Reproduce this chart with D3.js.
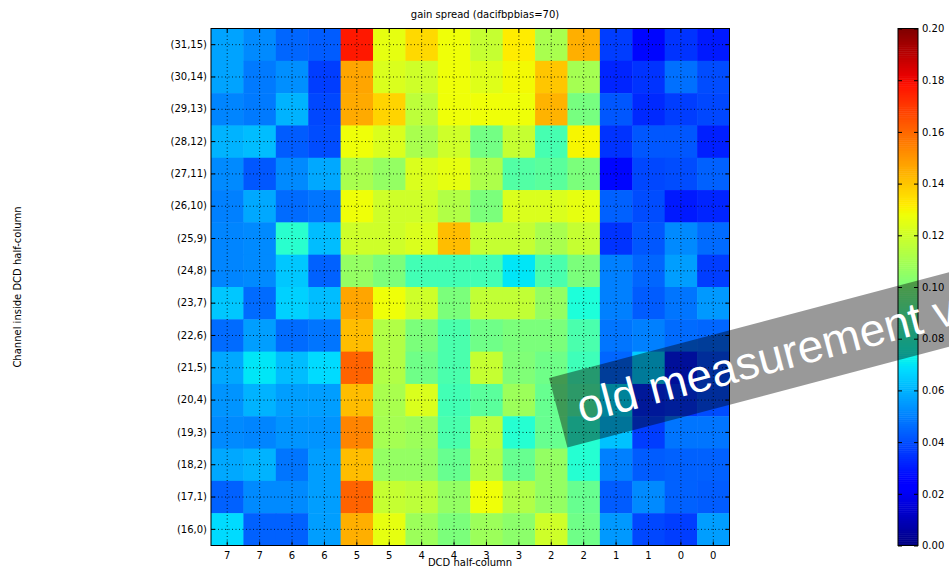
<!DOCTYPE html>
<html>
<head>
<meta charset="utf-8">
<script src="https://cdn.jsdelivr.net/npm/d3@7"></script>
<style>
  body { margin: 0; background: #fff; }
  text { font-family: "DejaVu Sans", sans-serif; }
  text.watermark { font-family: "Liberation Sans", Arial, sans-serif; }
</style>
</head>
<body>
<svg id="mychart" width="949" height="567"></svg>
<script>
// column labels (DCD half-column), left to right
const colLabels = ["7", "7", "6", "6", "5", "5", "4", "4", "3", "3", "2", "2", "1", "1", "0", "0"];
// row labels (channel inside DCD half-column), top to bottom
const rowLabels = ["(31,15)", "(30,14)", "(29,13)", "(28,12)", "(27,11)", "(26,10)", "(25,9)", "(24,8)",
  "(23,7)", "(22,6)", "(21,5)", "(20,4)", "(19,3)", "(18,2)", "(17,1)", "(16,0)"];
// gain spread values, one row per channel (top to bottom)
const gainSpread = [
  [0.057, 0.052, 0.045, 0.043, 0.177, 0.126, 0.136, 0.128, 0.118, 0.132, 0.111, 0.145, 0.037, 0.026, 0.035, 0.030],
  [0.057, 0.049, 0.053, 0.037, 0.147, 0.123, 0.120, 0.128, 0.124, 0.129, 0.140, 0.110, 0.032, 0.035, 0.047, 0.040],
  [0.051, 0.049, 0.060, 0.039, 0.146, 0.137, 0.116, 0.128, 0.128, 0.128, 0.144, 0.099, 0.042, 0.033, 0.037, 0.039],
  [0.060, 0.062, 0.043, 0.040, 0.128, 0.123, 0.111, 0.120, 0.098, 0.118, 0.087, 0.130, 0.035, 0.042, 0.042, 0.031],
  [0.052, 0.042, 0.052, 0.058, 0.111, 0.106, 0.123, 0.126, 0.112, 0.090, 0.092, 0.100, 0.026, 0.039, 0.040, 0.044],
  [0.050, 0.058, 0.046, 0.048, 0.128, 0.120, 0.120, 0.113, 0.100, 0.123, 0.123, 0.126, 0.044, 0.040, 0.030, 0.032],
  [0.051, 0.052, 0.080, 0.062, 0.120, 0.120, 0.123, 0.142, 0.118, 0.118, 0.111, 0.118, 0.035, 0.042, 0.052, 0.046],
  [0.051, 0.052, 0.064, 0.044, 0.106, 0.100, 0.086, 0.086, 0.086, 0.070, 0.088, 0.100, 0.050, 0.045, 0.056, 0.037],
  [0.064, 0.046, 0.066, 0.062, 0.147, 0.128, 0.120, 0.100, 0.117, 0.117, 0.106, 0.077, 0.050, 0.043, 0.048, 0.055],
  [0.046, 0.056, 0.046, 0.048, 0.142, 0.113, 0.100, 0.088, 0.097, 0.100, 0.100, 0.088, 0.048, 0.050, 0.046, 0.045],
  [0.058, 0.070, 0.062, 0.068, 0.161, 0.113, 0.097, 0.088, 0.118, 0.101, 0.097, 0.085, 0.045, 0.065, 0.030, 0.040],
  [0.054, 0.060, 0.056, 0.056, 0.142, 0.111, 0.123, 0.086, 0.092, 0.108, 0.095, 0.088, 0.068, 0.033, 0.035, 0.040],
  [0.052, 0.051, 0.054, 0.054, 0.154, 0.110, 0.108, 0.088, 0.116, 0.079, 0.095, 0.079, 0.063, 0.037, 0.048, 0.048],
  [0.058, 0.060, 0.048, 0.056, 0.142, 0.106, 0.106, 0.095, 0.113, 0.095, 0.106, 0.079, 0.050, 0.043, 0.044, 0.044],
  [0.044, 0.052, 0.052, 0.056, 0.161, 0.118, 0.116, 0.106, 0.128, 0.113, 0.106, 0.095, 0.043, 0.052, 0.044, 0.043],
  [0.068, 0.044, 0.044, 0.056, 0.145, 0.126, 0.108, 0.100, 0.108, 0.104, 0.120, 0.097, 0.055, 0.039, 0.037, 0.056]
];
// colorbar ticks
const cbarTicks = [0.00, 0.02, 0.04, 0.06, 0.08, 0.10, 0.12, 0.14, 0.16, 0.18, 0.20];

const svg = d3.select("#mychart");

// plot area
const plotLeft = 211, plotTop = 28.5, plotRight = 729.5, plotBottom = 545.5;

const x_Scale = d3.scaleBand().domain(d3.range(colLabels.length)).range([plotLeft, plotRight]);
const y_Scale = d3.scaleBand().domain(d3.range(rowLabels.length)).range([plotTop, plotBottom]);

// matplotlib "jet" colormap, value range 0..0.2
const tScale = d3.scaleLinear().domain([0, 0.2]).range([0, 1]).clamp(true);
const jetR = d3.scaleLinear().domain([0, 0.35, 0.66, 0.89, 1]).range([0, 0, 1, 1, 0.5]);
const jetG = d3.scaleLinear().domain([0, 0.125, 0.375, 0.64, 0.91, 1]).range([0, 0, 1, 1, 0, 0]);
const jetB = d3.scaleLinear().domain([0, 0.11, 0.34, 0.65, 1]).range([0.5, 1, 1, 0, 0]);
const jet = (v) => {
  const t = tScale(v);
  return d3.rgb(jetR(t) * 255, jetG(t) * 255, jetB(t) * 255).toString();
};

// cells
const cells = [];
gainSpread.forEach((row, r) => row.forEach((v, c) => cells.push({ r, c, v })));
svg.append("g")
  .selectAll("rect")
  .data(cells)
  .join("rect")
  .attr("x", (d) => x_Scale(d.c))
  .attr("y", (d) => y_Scale(d.r))
  .attr("width", x_Scale.bandwidth() + 0.5)
  .attr("height", y_Scale.bandwidth() + 0.5)
  .attr("fill", (d) => jet(d.v));

// dotted grid at tick positions
const grid = svg.append("g")
  .attr("stroke", "#000")
  .attr("stroke-width", 0.8)
  .attr("stroke-dasharray", "1,2.5");
grid.selectAll(".vgrid")
  .data(x_Scale.domain())
  .join("line")
  .attr("x1", (d) => x_Scale(d) + x_Scale.bandwidth() / 2)
  .attr("x2", (d) => x_Scale(d) + x_Scale.bandwidth() / 2)
  .attr("y1", plotTop)
  .attr("y2", plotBottom);
grid.selectAll(".hgrid")
  .data(y_Scale.domain())
  .join("line")
  .attr("y1", (d) => y_Scale(d) + y_Scale.bandwidth() / 2)
  .attr("y2", (d) => y_Scale(d) + y_Scale.bandwidth() / 2)
  .attr("x1", plotLeft)
  .attr("x2", plotRight);

// axes, ticks pointing inward
svg.append("g")
  .attr("transform", `translate(0,${plotBottom})`)
  .call(d3.axisBottom(x_Scale).tickSize(-4).tickPadding(6).tickFormat((i) => colLabels[i]));
svg.append("g")
  .attr("transform", `translate(0,${plotTop})`)
  .call(d3.axisTop(x_Scale).tickSize(-4).tickFormat(""));
svg.append("g")
  .attr("transform", `translate(${plotLeft},0)`)
  .call(d3.axisLeft(y_Scale).tickSize(-4).tickPadding(4).tickFormat((i) => rowLabels[i]));
svg.append("g")
  .attr("transform", `translate(${plotRight},0)`)
  .call(d3.axisRight(y_Scale).tickSize(-4).tickFormat(""));
svg.selectAll(".domain").remove();
svg.selectAll(".tick text")
  .attr("font-size", "10px")
  .attr("fill", "#000");

// frame
svg.append("rect")
  .attr("x", plotLeft).attr("y", plotTop)
  .attr("width", plotRight - plotLeft).attr("height", plotBottom - plotTop)
  .attr("fill", "none")
  .attr("stroke", "#000")
  .attr("stroke-width", 1);

// title and labels
svg.append("text")
  .attr("x", 485).attr("y", 18)
  .attr("text-anchor", "middle")
  .attr("font-size", "10px")
  .text("gain spread (dacifbpbias=70)");
svg.append("text")
  .attr("x", 470).attr("y", 566)
  .attr("text-anchor", "middle")
  .attr("font-size", "10px")
  .text("DCD half-column");
svg.append("text")
  .attr("transform", `translate(21,${(plotTop + plotBottom) / 2}) rotate(-90)`)
  .attr("text-anchor", "middle")
  .attr("font-size", "10px")
  .text("Channel inside DCD half-column");

// colorbar
const cbLeft = 898, cbWidth = 20;
const cScale = d3.scaleLinear().domain([0, 0.2]).range([plotBottom, plotTop]);
const steps = d3.range(0, 0.2, 0.0008);
svg.append("g")
  .selectAll("rect")
  .data(steps)
  .join("rect")
  .attr("x", cbLeft)
  .attr("y", (d) => cScale(d + 0.0008))
  .attr("width", cbWidth)
  .attr("height", (d) => cScale(d) - cScale(d + 0.0008) + 0.5)
  .attr("fill", (d) => jet(d + 0.0004));
svg.append("rect")
  .attr("x", cbLeft).attr("y", plotTop)
  .attr("width", cbWidth).attr("height", plotBottom - plotTop)
  .attr("fill", "none")
  .attr("stroke", "#000")
  .attr("stroke-width", 1);
svg.append("g")
  .attr("transform", `translate(${cbLeft + cbWidth},0)`)
  .call(d3.axisRight(cScale).tickValues(cbarTicks).tickSize(-4).tickPadding(4).tickFormat(d3.format(".2f")))
  .call((g) => g.select(".domain").remove())
  .call((g) => g.selectAll("text").attr("font-size", "10px").attr("fill", "#000"));
svg.append("g")
  .attr("transform", `translate(${cbLeft},0)`)
  .call(d3.axisLeft(cScale).tickValues(cbarTicks).tickSize(-4).tickFormat(""))
  .call((g) => g.select(".domain").remove());

// watermark band
const wm = svg.append("g").attr("transform", "translate(549,378) rotate(-14.8)");
wm.append("rect")
  .attr("x", 0).attr("y", 0)
  .attr("width", 700).attr("height", 72)
  .attr("fill", "#000")
  .attr("fill-opacity", 0.4);
wm.append("text")
  .attr("class", "watermark")
  .attr("x", 20).attr("y", 52)
  .attr("fill", "#fff")
  .attr("font-size", "46px")
  .text("old measurement values");
</script>
</body>
</html>
